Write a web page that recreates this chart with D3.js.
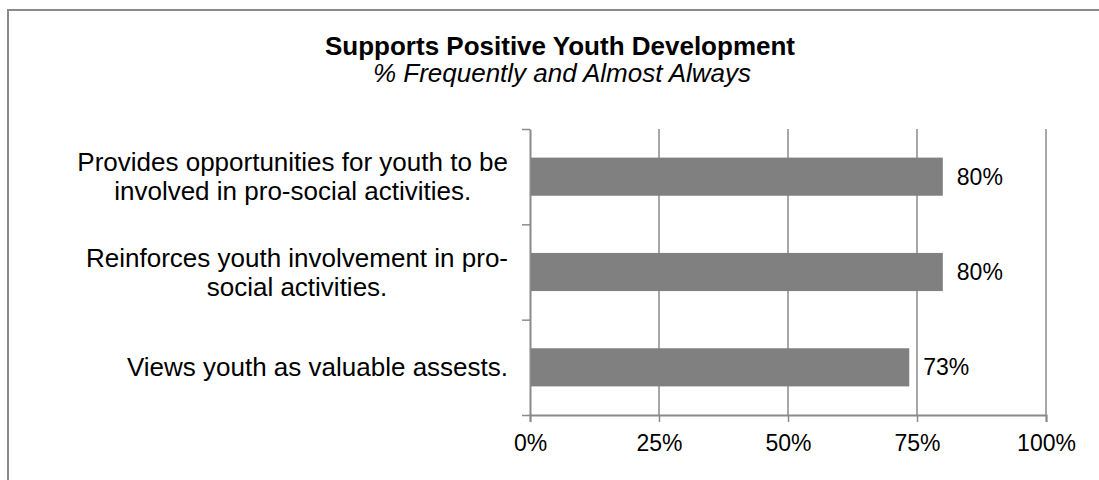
<!DOCTYPE html>
<html>
<head>
<meta charset="utf-8">
<script src="https://cdn.jsdelivr.net/npm/d3@7"></script>
<style>
  body { margin: 0; background: #fff; }
  text { font-family: "Liberation Sans", Arial, sans-serif; fill: #000; }
</style>
</head>
<body>
<div id="chart"></div>
<script>
var categories = [
  ["Provides opportunities for youth to be", "involved in pro-social activities."],
  ["Reinforces youth involvement in pro-", "social activities."],
  ["Views youth as valuable assests."]
];
var values = [80, 80, 73.5];
var valueLabels = ["80%", "80%", "73%"];
var tickValues = [0, 25, 50, 75, 100];

var W = 1099, H = 480;
var margin = {top: 129, right: 53, bottom: 65, left: 530};
var width = W - margin.left - margin.right;
var height = H - margin.top - margin.bottom;

var svg = d3.select("#chart")
  .append("svg")
    .attr("width", W)
    .attr("height", H);

// frame
svg.append("rect")
  .attr("x", 8).attr("y", 10)
  .attr("width", W + 20).attr("height", H + 20)
  .attr("fill", "none")
  .attr("stroke", "#8a8a8a")
  .attr("stroke-width", 2);

svg.append("text")
  .attr("x", 560).attr("y", 55)
  .attr("text-anchor", "middle")
  .style("font-size", "26px")
  .style("font-weight", "bold")
  .text("Supports Positive Youth Development");
svg.append("text")
  .attr("x", 562).attr("y", 82)
  .attr("text-anchor", "middle")
  .style("font-size", "26px")
  .style("font-style", "italic")
  .text("% Frequently and Almost Always");

var g = svg.append("g")
  .attr("transform", "translate(" + margin.left + "," + margin.top + ")");

var x = d3.scaleLinear().domain([0, 100]).range([0, width]);
var y = d3.scaleBand()
  .domain(d3.range(categories.length))
  .range([0, height])
  .paddingInner(0.6)
  .paddingOuter(0.3);

// vertical gridlines
g.selectAll(".grid")
  .data(tickValues.slice(1))
  .enter().append("line")
    .attr("x1", function(d) { return x(d); })
    .attr("x2", function(d) { return x(d); })
    .attr("y1", 0).attr("y2", height)
    .attr("stroke", "#8a8a8a")
    .attr("stroke-width", 1.5);

// bottom axis
var xAxis = g.append("g")
  .attr("transform", "translate(0," + height + ")")
  .call(d3.axisBottom(x).tickValues(tickValues)
    .tickFormat(function(d) { return d + "%"; })
    .tickSize(7).tickPadding(13));
xAxis.select(".domain").attr("stroke", "#8a8a8a").attr("stroke-width", 2);
xAxis.selectAll(".tick line").attr("stroke", "#8a8a8a").attr("stroke-width", 1.5);
xAxis.selectAll(".tick text")
  .style("font-size", "23px")
  .style("font-family", "'Liberation Sans', Arial, sans-serif")
  .attr("fill", "#000")
  .attr("dy", "0.71em");

// left axis, ticks on band boundaries
var yb = d3.scaleLinear().domain([0, categories.length]).range([0, height]);
var yAxis = g.append("g")
  .call(d3.axisLeft(yb).ticks(categories.length).tickFormat("").tickSize(8).tickSizeOuter(0));
yAxis.select(".domain").attr("stroke", "#8a8a8a").attr("stroke-width", 2);
yAxis.selectAll(".tick line").attr("stroke", "#8a8a8a").attr("stroke-width", 1.5);

// bars
g.selectAll(".bar")
  .data(values)
  .enter().append("rect")
    .attr("x", x(0) + 1)
    .attr("y", function(d, i) { return y(i); })
    .attr("width", function(d) { return x(d) - x(0) - 1; })
    .attr("height", y.bandwidth())
    .attr("fill", "#808080");

// value labels
g.selectAll(".vlabel")
  .data(values)
  .enter().append("text")
    .attr("x", function(d) { return x(d) + 14; })
    .attr("y", function(d, i) { return y(i) + y.bandwidth() / 2; })
    .attr("dy", "0.35em")
    .style("font-size", "23px")
    .text(function(d, i) { return valueLabels[i]; });

// category labels, wrapped lines centred, block right-aligned near axis
var lineH = 29;
categories.forEach(function(lines, i) {
  var cy = y(i) + y.bandwidth() / 2;
  var t = g.append("text")
    .attr("text-anchor", "middle")
    .style("font-size", "26px");
  var spans = lines.map(function(s, j) {
    return t.append("tspan")
      .attr("y", cy + (j - (lines.length - 1) / 2) * lineH)
      .attr("dy", "0.35em")
      .text(s);
  });
  var maxW = d3.max(spans, function(s) { return s.node().getComputedTextLength(); });
  var cx = -22 - maxW / 2;
  spans.forEach(function(s) { s.attr("x", cx); });
});
</script>
</body>
</html>
